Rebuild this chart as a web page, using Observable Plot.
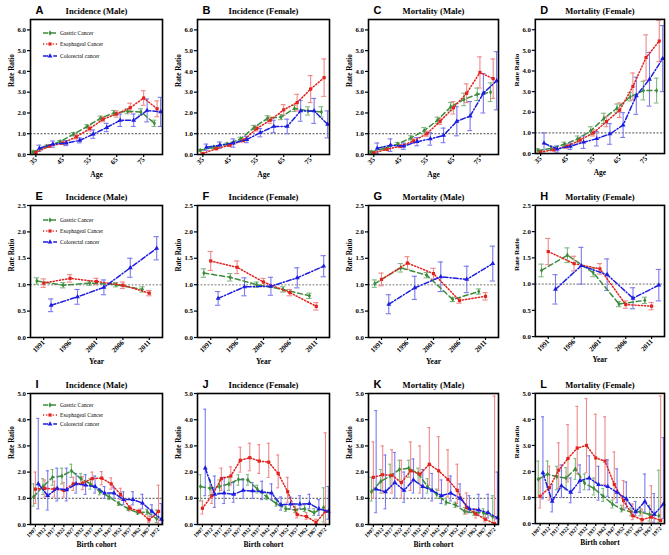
<!DOCTYPE html>
<html><head><meta charset="utf-8">
<script src="https://cdn.jsdelivr.net/npm/d3@7"></script>
<script src="https://cdn.jsdelivr.net/npm/@observablehq/plot@0.6"></script>
<style>
body{margin:0;background:#fff;}
#root{position:relative;width:669px;height:555px;overflow:hidden;background:#fff}
.panel{position:absolute}
</style></head><body><div id="root"></div>
<script>
// ---------- categories / ticks ----------
const ageGroups = [35,40,45,50,55,60,65,70,75,80];
const ageTicks = [35,45,55,65,75];
const periodYears = [1991,1996,2001,2006,2011];
const cohortYears = [1907,1912,1917,1922,1927,1932,1937,1942,1947,1952,1957,1962,1967,1972];
const seriesNames = ["Gastric Cancer","Esophageal Cancer","Colorectal cancer"];
const ageYTicks = [0,1,2,3,4,5,6];
const periodYTicks = [0,0.5,1,1.5,2,2.5];
const cohortYTicks = [0,1,2,3,4,5];

// ---------- age effects: [rate ratio, ± error] ----------
const A_gastric = [[0.12,0.04],[0.4,0.05],[0.62,0.05],[0.98,0.08],[1.35,0.08],[1.75,0.1],[2.0,0.12],[2.08,0.12],[2.05,0.15],[1.5,0.15]];
const A_esoph   = [[0.1,0.05],[0.4,0.05],[0.55,0.06],[0.85,0.1],[1.25,0.12],[1.7,0.12],[1.95,0.15],[2.25,0.22],[2.72,0.35],[2.2,0.38]];
const A_colo    = [[0.3,0.15],[0.5,0.15],[0.55,0.12],[0.68,0.12],[0.98,0.2],[1.3,0.2],[1.65,0.3],[1.65,0.3],[2.12,0.55],[2.05,0.7]];
const B_gastric = [[0.2,0.04],[0.35,0.05],[0.5,0.05],[0.75,0.08],[1.3,0.1],[1.75,0.12],[1.8,0.12],[2.22,0.15],[2.1,0.2],[2.05,0.25]];
const B_esoph   = [[0.05,0.03],[0.28,0.05],[0.45,0.06],[0.68,0.08],[1.25,0.12],[1.65,0.15],[2.15,0.25],[2.5,0.4],[3.15,0.65],[3.7,0.9]];
const B_colo    = [[0.35,0.15],[0.45,0.15],[0.55,0.2],[0.72,0.15],[1.05,0.2],[1.35,0.3],[1.35,0.35],[2.1,0.5],[2.1,0.6],[1.45,0.65]];
const C_gastric = [[0.12,0.05],[0.3,0.07],[0.5,0.08],[0.8,0.1],[1.15,0.15],[1.65,0.15],[2.3,0.2],[2.65,0.3],[2.9,0.3],[3.0,0.45]];
const C_esoph   = [[0.08,0.04],[0.25,0.06],[0.4,0.07],[0.65,0.1],[1.0,0.12],[1.6,0.15],[2.25,0.3],[2.95,0.45],[3.95,0.75],[3.65,0.95]];
const C_colo    = [[0.3,0.25],[0.45,0.3],[0.4,0.15],[0.62,0.2],[0.75,0.3],[0.92,0.35],[1.6,0.7],[1.85,0.7],[2.95,0.95],[3.55,1.4]];
const D_gastric = [[0.15,0.08],[0.25,0.1],[0.45,0.1],[0.7,0.15],[1.1,0.2],[1.7,0.25],[2.2,0.2],[2.75,0.2],[3.05,0.45],[3.05,0.6]];
const D_esoph   = [[0.08,0.05],[0.18,0.05],[0.35,0.1],[0.65,0.1],[1.0,0.15],[1.55,0.25],[2.1,0.35],[3.25,0.65],[4.65,1.1],[5.45,1.0]];
const D_colo    = [[0.5,0.5],[0.22,0.15],[0.35,0.15],[0.55,0.3],[0.72,0.35],[0.95,0.5],[1.38,0.6],[2.8,0.9],[3.6,1.3],[4.6,1.6]];

// ---------- period effects: [rate ratio, ± error] ----------
const E_gastric = [[1.07,0.06],[0.99,0.05],[1.03,0.04],[1.0,0.04],[0.91,0.05]];
const E_esoph   = [[1.03,0.08],[1.12,0.07],[1.06,0.06],[0.99,0.06],[0.84,0.05]];
const E_colo    = [[0.61,0.12],[0.77,0.14],[0.95,0.14],[1.32,0.18],[1.69,0.22]];
const F_gastric = [[1.22,0.08],[1.14,0.07],[1.0,0.05],[0.91,0.05],[0.79,0.05]];
const F_esoph   = [[1.45,0.18],[1.33,0.12],[1.05,0.07],[0.85,0.06],[0.59,0.07]];
const F_colo    = [[0.74,0.13],[0.96,0.17],[0.97,0.17],[1.13,0.19],[1.35,0.2]];
const G_gastric = [[1.02,0.07],[1.32,0.08],[1.18,0.05],[0.72,0.04],[0.87,0.05]];
const G_esoph   = [[1.1,0.12],[1.41,0.12],[1.21,0.1],[0.7,0.05],[0.78,0.07]];
const G_colo    = [[0.63,0.18],[0.94,0.22],[1.15,0.28],[1.1,0.25],[1.4,0.33]];
const H_gastric = [[1.26,0.12],[1.55,0.14],[1.22,0.08],[0.62,0.05],[0.69,0.06]];
const H_esoph   = [[1.62,0.25],[1.39,0.14],[1.29,0.1],[0.61,0.07],[0.58,0.07]];
const H_colo    = [[0.9,0.28],[1.35,0.35],[1.18,0.3],[0.73,0.2],[0.98,0.3]];

// ---------- cohort effects: [rate ratio, lower, upper] ----------
const I_gastric = [[1.05,0.7,1.55],[1.45,1.15,1.75],[1.8,1.5,2.1],[1.85,1.55,2.15],[2.05,1.8,2.3],[1.75,1.55,1.95],[1.55,1.35,1.75],[1.25,1.13,1.37],[1.05,0.95,1.15],[0.8,0.73,0.87],[0.6,0.54,0.66],[0.45,0.39,0.51],[0.48,0.38,0.58],[0.22,0.08,0.55]];
const I_esoph   = [[1.35,0.8,2.0],[1.38,1.05,1.7],[1.35,1.05,1.65],[1.3,1.05,1.6],[1.55,1.3,1.8],[1.58,1.33,1.83],[1.75,1.5,2.0],[1.77,1.52,2.02],[1.55,1.35,1.78],[1.15,0.95,1.38],[0.62,0.52,0.72],[0.5,0.42,0.58],[0.18,0.08,0.32],[0.5,0.05,1.5]];
const I_colo    = [[1.55,0.6,4.05],[1.1,0.55,2.05],[1.38,0.9,2.15],[1.32,0.9,2.15],[1.55,1.2,1.95],[1.5,1.15,1.9],[1.45,1.2,1.85],[1.2,1.0,1.45],[1.2,1.0,1.4],[0.95,0.75,1.25],[0.95,0.75,1.25],[0.82,0.6,1.15],[0.5,0.3,0.75],[0.2,0.0,0.8]];
const J_gastric = [[1.45,0.9,1.9],[1.38,1.1,1.7],[1.45,1.2,1.7],[1.55,1.3,1.8],[1.72,1.5,1.9],[1.7,1.5,1.9],[1.35,1.2,1.5],[1.05,0.95,1.2],[0.8,0.7,0.95],[0.6,0.5,0.7],[0.55,0.45,0.7],[0.6,0.5,0.75],[0.45,0.35,0.6],[0.65,0.1,1.4]];
const J_esoph   = [[0.62,0.4,0.9],[1.1,0.8,1.45],[1.75,1.3,2.15],[1.85,1.5,2.2],[2.45,2.0,2.95],[2.55,2.05,3.1],[2.42,1.95,3.05],[2.38,1.8,3.1],[1.95,1.4,2.65],[1.25,0.85,1.8],[0.38,0.25,0.6],[0.3,0.2,0.45],[0.08,0.02,0.2],[0.5,0.05,3.5]];
const J_colo    = [[2.15,1.1,4.4],[1.15,0.65,1.85],[1.2,0.8,1.8],[1.15,0.85,1.6],[1.3,1.0,1.75],[1.28,1.0,1.6],[1.25,0.95,1.65],[1.2,0.95,1.55],[0.75,0.55,1.05],[0.78,0.6,1.05],[0.78,0.6,1.1],[0.8,0.6,1.15],[0.6,0.35,0.95],[0.5,0.2,1.45]];
const K_gastric = [[1.25,0.9,1.8],[1.65,1.2,2.1],[1.85,1.4,2.3],[2.1,1.7,2.45],[2.15,1.8,2.45],[1.95,1.6,2.15],[1.45,1.2,1.75],[1.15,1.0,1.35],[0.85,0.75,1.0],[0.75,0.65,0.85],[0.5,0.4,0.65],[0.45,0.35,0.6],[0.45,0.3,0.6],[0.3,0.05,1.1]];
const K_esoph   = [[1.8,1.0,3.15],[1.9,1.2,3.0],[1.88,1.2,2.85],[1.6,1.0,2.45],[2.05,1.3,3.15],[1.92,1.2,3.0],[2.3,1.5,3.7],[2.05,1.3,3.35],[1.72,1.05,2.85],[1.3,0.8,2.3],[0.65,0.4,1.2],[0.4,0.25,0.6],[0.2,0.1,0.4],[0.03,0.0,4.9]];
const K_colo    = [[1.35,0.45,4.35],[1.25,0.6,2.65],[1.6,1.0,2.75],[1.3,0.85,2.0],[1.7,1.2,2.5],[1.45,1.0,2.1],[1.3,0.9,1.95],[1.1,0.8,1.7],[1.2,0.9,1.85],[1.0,0.7,1.55],[0.6,0.45,1.1],[0.55,0.35,1.15],[0.45,0.25,1.15],[0.25,0.0,2.0]];
const L_gastric = [[1.7,1.0,2.4],[1.9,1.4,2.4],[1.8,1.3,2.2],[1.75,1.3,2.15],[2.1,1.7,2.5],[1.55,1.3,1.9],[1.35,1.1,1.75],[1.05,0.85,1.35],[0.75,0.6,0.9],[0.55,0.45,0.7],[0.45,0.3,0.6],[0.45,0.3,0.6],[0.35,0.1,0.7],[0.3,0.05,2.05]];
const L_esoph   = [[1.05,0.6,1.75],[1.38,0.9,2.2],[2.05,1.35,3.1],[2.5,1.6,3.8],[2.9,1.9,4.5],[3.0,1.95,4.8],[2.52,1.6,4.2],[2.4,1.5,4.1],[1.5,0.95,2.75],[0.88,0.55,1.65],[0.3,0.15,0.75],[0.15,0.05,0.55],[0.25,0.05,1.45],[0.12,0.0,4.9]];
const L_colo    = [[1.95,0.95,4.1],[0.85,0.45,1.5],[1.45,1.0,2.25],[1.2,0.8,1.75],[1.65,1.2,2.25],[1.75,1.3,2.6],[1.5,0.9,2.2],[1.42,1.05,2.45],[1.2,0.8,2.1],[0.95,0.6,1.6],[0.45,0.3,0.85],[0.85,0.45,1.9],[0.35,0.05,1.15],[0.75,0.2,3.3]];

// ---------- styling ----------
const colors = ["#3d8b3d","#e3211d","#1d1de0"];
const barColors = ["#80b880","#ef8888","#7a7aee"];
const dashes = ["5,3","1.2,2","5,2,1.2,2"];
const symbols = ["diamond","square","triangle"];
const serif = "'Liberation Serif','Times New Roman',serif";
const sans = "'Liberation Sans',Arial,sans-serif";

const rows = {
  age:    {xs: ageGroups, ticks: ageTicks, domain:[33,82], yDomain:[0,6.5], yTicks: ageYTicks, xLabel:"Age", off:[-1,0,1.3], cap:0.9, top:0, h:186, mt:19, mb:32, refStroke:"#222", refW:0.8, refDash:"2,1.5", fs:7, legendY:[14,25,37]},
  period: {xs: periodYears, ticks: periodYears, domain:[1988.5,2013.5], yDomain:[0,2.5], yTicks: periodYTicks, xLabel:"Year", off:[-1.3,0,1.4], cap:0.5, top:186, h:186, mt:19, mb:35, refStroke:"#aaa", refW:1.6, refDash:"2,1.5", fs:7, legendY:[15,26,37]},
  cohort: {xs: cohortYears, ticks: cohortYears, domain:[1904.4,1974.1], yDomain:[0,5], yTicks: cohortYTicks, xLabel:"Birth cohort", off:[-1,0,1.5], cap:0.8, top:372, h:183, mt:21, mb:31, refStroke:"#222", refW:0.8, refDash:"2,1.5", fs:5.6, legendY:[12,22,31]}
};
const colLeft = [30,197,368,535];
const colWidth = [132,132,130,130];

const panels = [
  ["A","Incidence (Male)","age",[A_gastric,A_esoph,A_colo],true],
  ["B","Incidence (Female)","age",[B_gastric,B_esoph,B_colo],false],
  ["C","Mortality (Male)","age",[C_gastric,C_esoph,C_colo],false],
  ["D","Mortality (Female)","age",[D_gastric,D_esoph,D_colo],false],
  ["E","Incidence (Male)","period",[E_gastric,E_esoph,E_colo],true],
  ["F","Incidence (Female)","period",[F_gastric,F_esoph,F_colo],false],
  ["G","Mortality (Male)","period",[G_gastric,G_esoph,G_colo],false],
  ["H","Mortality (Female)","period",[H_gastric,H_esoph,H_colo],false],
  ["I","Incidence (Male)","cohort",[I_gastric,I_esoph,I_colo],true],
  ["J","Incidence (Female)","cohort",[J_gastric,J_esoph,J_colo],false],
  ["K","Mortality (Male)","cohort",[K_gastric,K_esoph,K_colo],false],
  ["L","Mortality (Female)","cohort",[L_gastric,L_esoph,L_colo],false]
];

const root = document.getElementById("root");

panels.forEach(([letter, title, kind, series, legend], idx) => {
  const r = rows[kind];
  const col = idx % 4;
  const fw = colWidth[col];
  const rowsData = series.map((vals, s) => vals.map((v, i) => ({
    x: r.xs[i] + r.off[s],
    y: v[0],
    lo: v.length === 3 ? v[1] : v[0] - v[1],
    hi: v.length === 3 ? v[2] : v[0] + v[1],
    s
  })));
  const marks = [
    Plot.ruleY([1], {stroke: r.refStroke, strokeWidth: r.refW, strokeDasharray: r.refDash})
  ];
  rowsData.forEach((d, s) => {
    marks.push(
      Plot.ruleX(d, {x: "x", y1: "lo", y2: "hi", stroke: barColors[s], strokeWidth: 1.1}),
      Plot.ruleY(d, {y: "lo", x1: p => p.x - r.cap, x2: p => p.x + r.cap, stroke: barColors[s], strokeWidth: 1.1}),
      Plot.ruleY(d, {y: "hi", x1: p => p.x - r.cap, x2: p => p.x + r.cap, stroke: barColors[s], strokeWidth: 1.1})
    );
  });
  rowsData.forEach((d, s) => {
    marks.push(
      Plot.line(d, {x: "x", y: "y", stroke: colors[s], strokeWidth: 1.5, strokeDasharray: dashes[s]}),
      Plot.dot(d, {x: "x", y: "y", fill: colors[s], stroke: "none", symbol: symbols[s], r: s === 0 ? 1.6 : 1.8})
    );
  });
  marks.push(
    Plot.axisY({ticks: r.yTicks, tickFormat: d3.format(".1f"), tickSize: 3, tickPadding: 1.5, label: null, fontSize: 6.8, strokeWidth: 1.2}),
    Plot.axisX({ticks: r.ticks, tickFormat: d3.format("d"), tickRotate: -45, tickSize: 3, tickPadding: 1, label: null, fontSize: r.fs, strokeWidth: 1.2}),
    Plot.frame({stroke: "#000", strokeWidth: 1.6}),
    Plot.text(["Rate Ratio"], {text: d => d, frameAnchor: "left", dx: -19, rotate: -90, fontSize: 7.2, fontWeight: "bold", fontFamily: serif}),
    Plot.text([r.xLabel], {text: d => d, frameAnchor: "bottom", dy: kind === "period" ? 26 : 22, fontSize: 7.5, fontWeight: "bold", fontFamily: serif}),
    Plot.text([title], {text: d => d, frameAnchor: "top", dy: -12, fontSize: 8.6, fontWeight: "bold", fontFamily: serif}),
    Plot.text([letter], {text: d => d, frameAnchor: "top-left", dx: 5, dy: -13, fontSize: 11, fontWeight: "bold", fontFamily: sans})
  );
  const chart = Plot.plot({
    width: 30 + fw + 5,
    height: r.h,
    marginLeft: 30, marginRight: 5, marginTop: r.mt, marginBottom: r.mb,
    x: {domain: r.domain},
    y: {domain: r.yDomain},
    style: {fontFamily: serif, fontWeight: "bold", fontSize: "7px", background: "transparent", overflow: "visible", color: "#000"},
    marks
  });
  const div = document.createElement("div");
  div.className = "panel";
  div.style.left = (colLeft[col] - 30) + "px";
  div.style.top = r.top + "px";
  div.appendChild(chart);
  root.appendChild(div);

  if (legend) {
    const svg = d3.select(chart);
    const g = svg.append("g").attr("transform", `translate(30,${r.mt})`);
    seriesNames.forEach((name, s) => {
      const y = r.legendY[s];
      g.append("line").attr("x1", 13).attr("x2", 27).attr("y1", y).attr("y2", y)
        .attr("stroke", colors[s]).attr("stroke-width", 1.4).attr("stroke-dasharray", dashes[s]);
      g.append("path").attr("d", d3.symbol(d3["symbol" + symbols[s][0].toUpperCase() + symbols[s].slice(1)], s === 0 ? 8 : 10)())
        .attr("transform", `translate(20,${y})`).attr("fill", colors[s]);
      g.append("text").attr("x", 30).attr("y", y).attr("dy", "0.32em")
        .attr("text-anchor", "start")
        .attr("font-size", 5.6).attr("font-weight", "normal").attr("font-family", serif).attr("fill", "#000").text(name);
    });
  }
});
</script>
</body></html>
